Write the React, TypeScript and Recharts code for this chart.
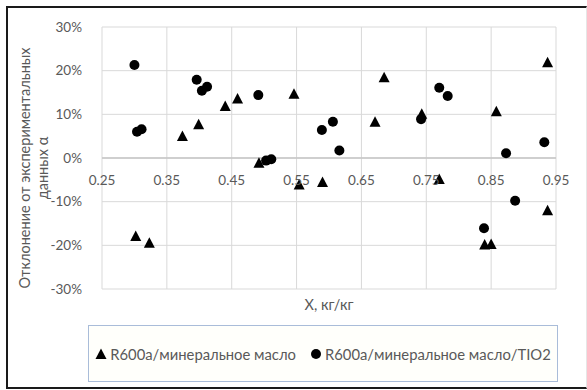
import React from "react";
import {
  ScatterChart,
  Scatter,
  XAxis,
  YAxis,
  CartesianGrid,
  ReferenceLine,
  Legend,
} from "recharts";

const seriesNames = ["R600a/минеральное масло", "R600a/минеральное масло/TIO2"];

const oilX = [0.302, 0.323, 0.374, 0.399, 0.44, 0.459, 0.492, 0.546, 0.554, 0.59, 0.671, 0.685, 0.743, 0.77, 0.84, 0.85, 0.858, 0.937, 0.937];
const oilY = [-18.0, -19.5, 4.9, 7.6, 11.8, 13.5, -1.2, 14.6, -6.2, -5.6, 8.2, 18.4, 10.0, -4.9, -19.9, -19.8, 10.6, 21.8, -12.1];

const tioX = [0.3, 0.304, 0.311, 0.396, 0.404, 0.412, 0.491, 0.503, 0.511, 0.589, 0.606, 0.616, 0.742, 0.77, 0.783, 0.839, 0.873, 0.887, 0.932];
const tioY = [21.3, 6.0, 6.6, 17.9, 15.4, 16.3, 14.4, -0.6, -0.3, 6.4, 8.3, 1.7, 8.9, 16.1, 14.2, -16.1, 1.1, -9.8, 3.6];

const xTicks = [0.25, 0.35, 0.45, 0.55, 0.65, 0.75, 0.85, 0.95];
const yTicks = [-30, -20, -10, 0, 10, 20, 30];
const xTitle = "X, кг/кг";
const yTitleLines = ["Отклонение от экспериментальных", "данных α"];

const oilData = oilX.map((x, i) => ({ x, y: oilY[i] }));
const tioData = tioX.map((x, i) => ({ x, y: tioY[i] }));

const FONT = "Lato, 'Liberation Sans', sans-serif";
const TEXT = "#595959";
const W = 587;
const H = 390;
const M = { top: 27, right: 31, left: 10, bottom: 76 };
const Y_AXIS_W = 92;
const X_AXIS_H = 25;
const PLOT_H = H - M.top - M.bottom - X_AXIS_H;
const Y_MIN = -30;
const Y_MAX = 30;
const ZERO_SHIFT = (PLOT_H * (0 - Y_MIN)) / (Y_MAX - Y_MIN);

const Triangle = (props: any) => {
  const { cx, cy } = props;
  if (cx == null || cy == null) return null;
  return (
    <polygon
      points={`${cx},${cy - 6} ${cx + 5.5},${cy + 4.5} ${cx - 5.5},${cy + 4.5}`}
      fill="#000"
    />
  );
};

const Dot = (props: any) => {
  const { cx, cy } = props;
  if (cx == null || cy == null) return null;
  return <circle cx={cx} cy={cy} r={5} fill="#000" />;
};

const XTick = (props: any) => {
  const { x, y, payload } = props;
  return (
    <text
      x={x}
      y={y - ZERO_SHIFT + 22}
      dy="0.35em"
      textAnchor="middle"
      fill={TEXT}
      fontSize={13.5}
      fontFamily={FONT}
    >
      {payload.value.toFixed(2)}
    </text>
  );
};

const YTitle = (props: any) => {
  const { viewBox } = props;
  const vb = viewBox || { x: M.left, y: M.top, width: Y_AXIS_W, height: PLOT_H };
  const cy = vb.y + vb.height / 2 + 10;
  return (
    <g>
      {yTitleLines.map((line, i) => {
        const cx = M.left + 20 + i * 18;
        return (
          <g key={i} transform={`translate(${cx},${cy}) rotate(-90)`}>
            <text
              x={0}
              y={0}
              textAnchor="middle"
              fill={TEXT}
              fontSize={14.5}
              fontFamily={FONT}
            >
              {line}
            </text>
          </g>
        );
      })}
    </g>
  );
};

const LegendContent = () => (
  <div
    style={{
      display: "flex",
      alignItems: "center",
      justifyContent: "center",
      height: "100%",
      fontFamily: FONT,
      fontSize: 14.8,
      color: TEXT,
    }}
  >
    <span style={{ display: "flex", alignItems: "center", marginRight: 14 }}>
      <svg width={12} height={12} style={{ marginRight: 3 }}>
        <polygon points="6,0.5 11.5,11 0.5,11" fill="#000" />
      </svg>
      {seriesNames[0]}
    </span>
    <span style={{ display: "flex", alignItems: "center" }}>
      <svg width={12} height={12} style={{ marginRight: 3 }}>
        <circle cx={6} cy={6} r={5} fill="#000" />
      </svg>
      {seriesNames[1]}
    </span>
  </div>
);

export default function App() {
  return (
    <div style={{ position: "absolute", left: 0, top: 0, width: W, height: H, background: "#fff" }}>
      <div
        style={{
          position: "absolute",
          left: 6,
          top: 6,
          width: 581,
          height: 383,
          boxSizing: "border-box",
          borderTop: "2px solid #1a1a1a",
          borderLeft: "2px solid #1a1a1a",
          borderBottom: "2px solid #1a1a1a",
          borderRight: "1px solid #e6e6e6",
        }}
      />
      <div style={{ position: "absolute", left: 0, top: 0 }}>
        <ScatterChart width={W} height={H} margin={M}>
          <CartesianGrid stroke="#d9d9d9" strokeWidth={1} />
          <XAxis
            type="number"
            dataKey="x"
            domain={[0.25, 0.95]}
            ticks={xTicks}
            interval={0}
            axisLine={false}
            tickLine={false}
            tickSize={0}
            tickMargin={0}
            height={X_AXIS_H}
            tick={<XTick />}
            label={{
              value: xTitle,
              position: "insideBottom",
              offset: 4,
              fill: TEXT,
              fontSize: 14.5,
              fontFamily: FONT,
            }}
          />
          <YAxis
            type="number"
            dataKey="y"
            domain={[Y_MIN, Y_MAX]}
            ticks={yTicks}
            interval={0}
            width={Y_AXIS_W}
            axisLine={false}
            tickLine={false}
            tickMargin={14}
            tickFormatter={(v: number) => `${v}%`}
            tick={{ fill: TEXT, fontSize: 13.5, fontFamily: FONT }}
            label={<YTitle />}
          />
          <ReferenceLine y={0} stroke="#c6c6c6" strokeWidth={1.5} />
          <Legend
            layout="horizontal"
            align="center"
            verticalAlign="middle"
            content={<LegendContent />}
            wrapperStyle={{
              left: 88,
              top: 325,
              width: 470,
              height: 57,
              boxSizing: "border-box",
              border: "1.5px solid #a9bcd9",
              background: "#fffffb",
            }}
          />
          <Scatter
            name={seriesNames[0]}
            data={oilData}
            shape={<Triangle />}
            legendType="triangle"
            isAnimationActive={false}
          />
          <Scatter
            name={seriesNames[1]}
            data={tioData}
            shape={<Dot />}
            legendType="circle"
            isAnimationActive={false}
          />
        </ScatterChart>
      </div>
    </div>
  );
}
